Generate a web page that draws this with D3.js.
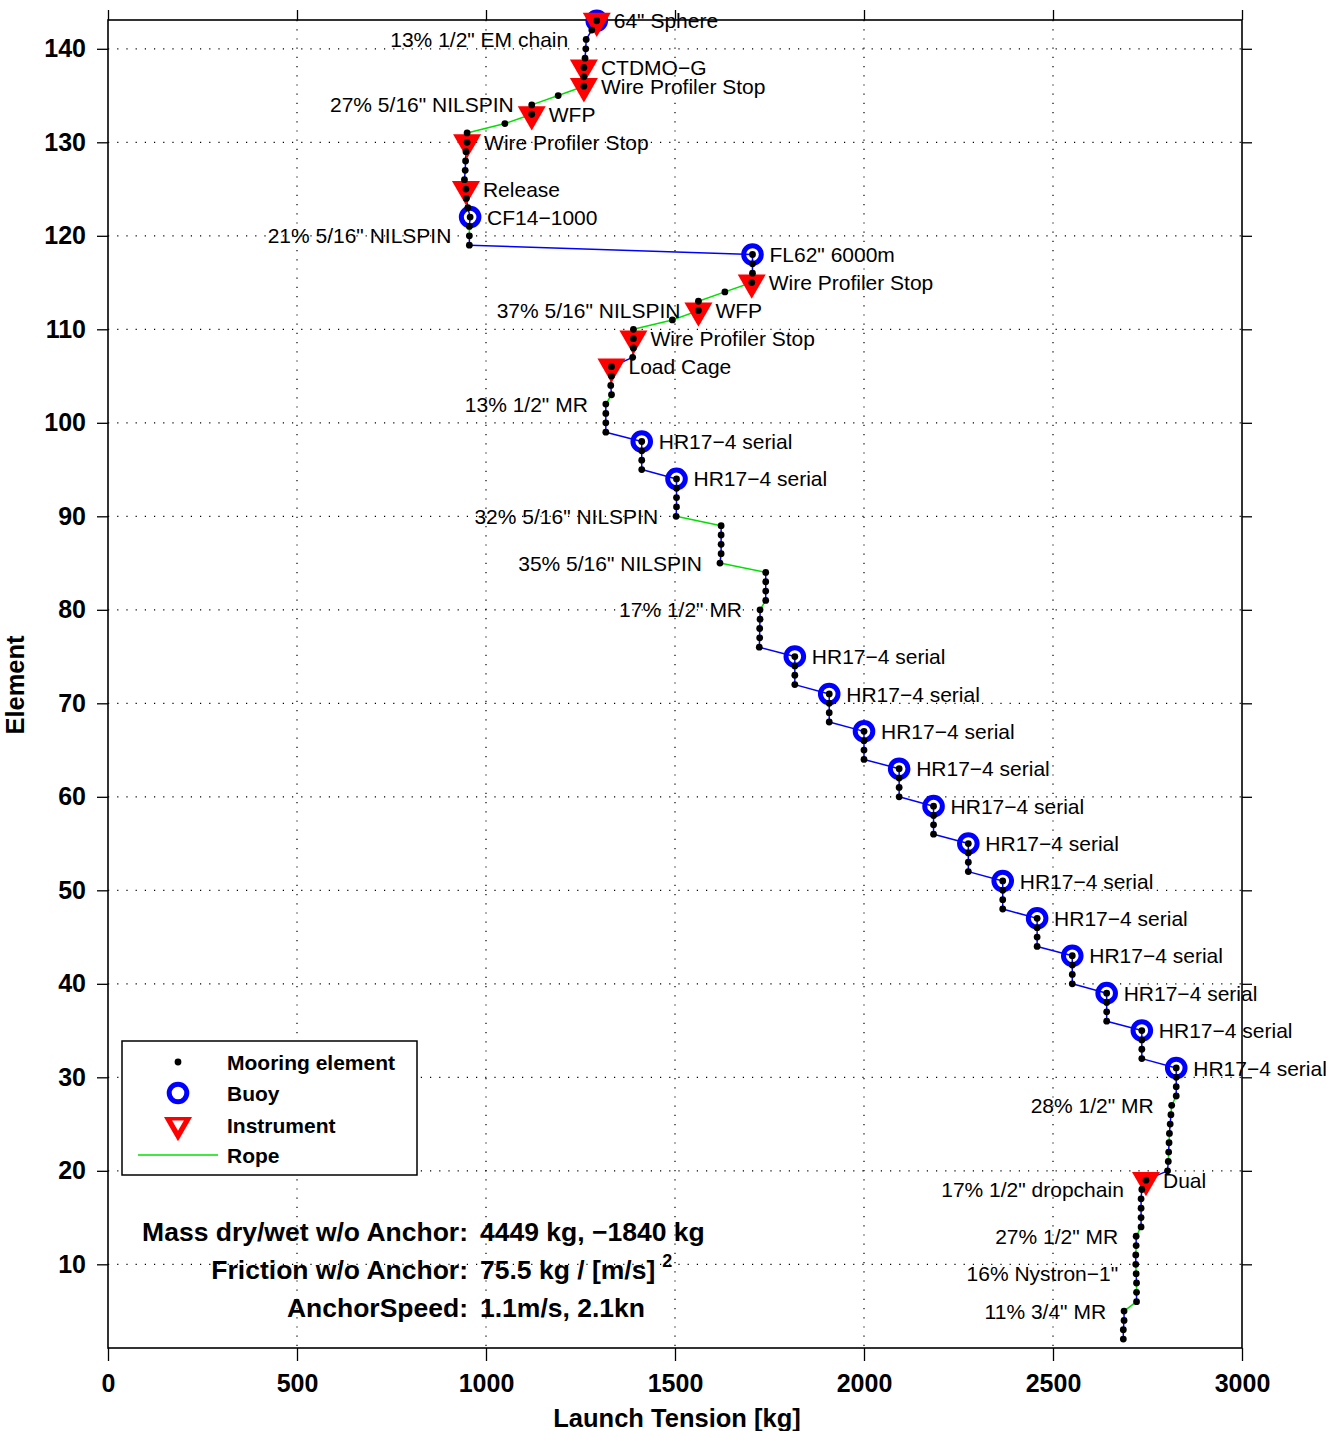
<!DOCTYPE html>
<html>
<head>
<meta charset="utf-8">
<script src="https://cdn.jsdelivr.net/npm/d3@7"></script>
<style>
  body { margin: 0; background: #fff; }
  text { font-family: "Liberation Sans", Arial, Helvetica, sans-serif; }
  .tick text { font-weight: bold; font-size: 25px; fill: #000; }
  .lbl { font-size: 21px; fill: #000; }
</style>
</head>
<body>
<div id="chart"></div>
<script>
// DATA
// launch tension [kg] per mooring element, starting at element 2 (bottom) up to 143 (top)
var firstElement = 2;
var tension = [
  2686, 2686, 2688, 2688,                                 // 2-5
  2721, 2721, 2721, 2720, 2719, 2719, 2720, 2720,         // 6-13
  2733, 2733, 2733, 2733, 2735,                           // 14-18
  2746,                                                   // 19 Dual
  2803, 2805, 2806, 2807, 2808, 2810, 2812, 2814,         // 20-27
  2826, 2826, 2826, 2826,                                 // 28-31
  2735, 2735, 2735, 2735,                                 // 32-35
  2642, 2642, 2642, 2642,                                 // 36-39
  2551, 2551, 2551, 2551,                                 // 40-43
  2458, 2458, 2458, 2458,                                 // 44-47
  2367, 2367, 2367, 2367,                                 // 48-51
  2276, 2276, 2276, 2276,                                 // 52-55
  2184, 2184, 2184, 2184,                                 // 56-59
  2093, 2093, 2093, 2093,                                 // 60-63
  2000, 2000, 2000, 2000,                                 // 64-67
  1908, 1908, 1908, 1908,                                 // 68-71
  1817, 1817, 1817, 1817,                                 // 72-75
  1723, 1724, 1724, 1725, 1725,                           // 76-80
  1740, 1740, 1740, 1740,                                 // 81-84
  1619, 1622, 1622, 1622, 1622,                           // 85-89
  1503, 1504, 1504, 1504, 1504,                           // 90-94
  1412, 1412, 1412, 1412,                                 // 95-98
  1317, 1317, 1317, 1317,                                 // 99-102
  1332, 1330, 1332, 1332,                                 // 103-106
  1388, 1390, 1390, 1390,                                 // 107-110
  1493, 1562, 1562, 1632,                                 // 111-114
  1703, 1705, 1705, 1705,                                 // 115-118
  956, 956, 956, 958, 952, 948, 947, 943, 945, 946, 947, 950, 950, // 119-131
  1050, 1121, 1121, 1191,                                 // 132-135
  1259, 1259, 1259, 1262, 1264, 1265, 1280, 1293          // 136-143
];

// links (lower element of the pair) drawn as rope
var ropeLinks = [5, 7, 9, 11, 13, 21, 23, 26, 27, 80, 84, 89, 102, 110, 111, 112, 113, 114, 120, 131, 132, 133, 134, 135, 142];

var buoyElements = [143, 122, 118, 98, 94, 75, 71, 67, 63, 59, 55, 51, 47, 43, 39, 35, 31];
var instrumentElements = [143, 138, 136, 133, 130, 125, 115, 112, 109, 106, 19];

// labels right of the marker
var rightLabelElements = [143, 138, 136, 133, 130, 125, 122, 118, 115, 112, 109, 106,
  98, 94, 75, 71, 67, 63, 59, 55, 51, 47, 43, 39, 35, 31, 19];
var rightLabelTexts = ["64\" Sphere", "CTDMO\u2212G", "Wire Profiler Stop", "WFP", "Wire Profiler Stop",
  "Release", "CF14\u22121000", "FL62\" 6000m", "Wire Profiler Stop", "WFP", "Wire Profiler Stop", "Load Cage",
  "HR17\u22124 serial", "HR17\u22124 serial", "HR17\u22124 serial", "HR17\u22124 serial", "HR17\u22124 serial",
  "HR17\u22124 serial", "HR17\u22124 serial", "HR17\u22124 serial", "HR17\u22124 serial", "HR17\u22124 serial",
  "HR17\u22124 serial", "HR17\u22124 serial", "HR17\u22124 serial", "HR17\u22124 serial", "Dual"];

// labels left of the line (rope / chain sections)
var leftLabelElements = [141, 134, 120, 112, 102, 90, 85, 80, 27, 18, 13, 9, 5];
var leftLabelTexts = ["13% 1/2\" EM chain", "27% 5/16\" NILSPIN", "21% 5/16\" NILSPIN", "37% 5/16\" NILSPIN",
  "13% 1/2\" MR", "32% 5/16\" NILSPIN", "35% 5/16\" NILSPIN", "17% 1/2\" MR", "28% 1/2\" MR",
  "17% 1/2\" dropchain", "27% 1/2\" MR", "16% Nystron\u22121\"", "11% 3/4\" MR"];

var xTicks = [0, 500, 1000, 1500, 2000, 2500, 3000];
var yTicks = [10, 20, 30, 40, 50, 60, 70, 80, 90, 100, 110, 120, 130, 140];

var legendNames = ["Mooring element", "Buoy", "Instrument", "Rope"];
var infoNames = ["Mass dry/wet w/o Anchor:", "Friction w/o Anchor:", "AnchorSpeed:"];
var infoValues = ["4449 kg, \u22121840 kg", "75.5 kg / [m/s]", "1.1m/s, 2.1kn"];

// SET UP
var W = 1330, H = 1431;
var box = {left: 108, right: 1242, top: 20, bottom: 1348};

var svg = d3.select("#chart").append("svg")
    .attr("width", W)
    .attr("height", H);

var x = d3.scaleLinear().domain([0, 3000]).range([box.left, box.right]);
var y = d3.scaleLinear().domain([1.05, 143.08]).range([box.bottom, box.top]);

var data = tension.map(function(t, i) { return {el: firstElement + i, t: t}; });
function byEl(e) { return data[e - firstElement]; }

// grid (dotted)
var grid = svg.append("g");
grid.selectAll("line.gx").data(xTicks.slice(1, -1)).join("line")
    .attr("x1", d => x(d)).attr("x2", d => x(d))
    .attr("y1", box.top).attr("y2", box.bottom)
    .attr("stroke", "#000").attr("stroke-width", 1.2).attr("stroke-dasharray", "1.2,8");
grid.selectAll("line.gy").data(yTicks).join("line")
    .attr("x1", box.left).attr("x2", box.right)
    .attr("y1", d => y(d)).attr("y2", d => y(d))
    .attr("stroke", "#000").attr("stroke-width", 1.2).attr("stroke-dasharray", "1.2,8");

// axes
var xAxis = svg.append("g")
    .attr("transform", "translate(0," + box.bottom + ")")
    .call(d3.axisBottom(x).tickValues(xTicks).tickFormat(d3.format("d"))
      .tickSize(13).tickSizeOuter(0).tickPadding(13));
var xAxisTop = svg.append("g")
    .attr("transform", "translate(0," + box.top + ")")
    .call(d3.axisTop(x).tickValues(xTicks).tickSize(10).tickSizeOuter(0).tickFormat(""));
var yAxis = svg.append("g")
    .attr("transform", "translate(" + box.left + ",0)")
    .call(d3.axisLeft(y).tickValues(yTicks).tickSize(11).tickSizeOuter(0).tickPadding(11));
var yAxisRight = svg.append("g")
    .attr("transform", "translate(" + box.right + ",0)")
    .call(d3.axisRight(y).tickValues(yTicks).tickSize(10).tickSizeOuter(0).tickFormat(""));
svg.selectAll(".domain").remove();
svg.selectAll(".tick line").attr("stroke", "#000").attr("stroke-width", 1.3);

// frame
svg.append("rect")
    .attr("x", box.left).attr("y", box.top)
    .attr("width", box.right - box.left).attr("height", box.bottom - box.top)
    .attr("fill", "none").attr("stroke", "#000").attr("stroke-width", 1.6);

// axis titles
svg.append("text")
    .attr("x", 677).attr("y", 1427)
    .attr("text-anchor", "middle")
    .attr("font-weight", "bold").attr("font-size", 25.5)
    .text("Launch Tension [kg]");
svg.append("text")
    .attr("transform", "translate(24,685) rotate(-90)")
    .attr("text-anchor", "middle")
    .attr("font-weight", "bold").attr("font-size", 25.5)
    .text("Element");

// mooring line, one segment per link
var links = data.slice(0, -1).map(function(d, i) { return [d, data[i + 1]]; });
svg.append("g").selectAll("line").data(links).join("line")
    .attr("x1", d => x(d[0].t)).attr("y1", d => y(d[0].el))
    .attr("x2", d => x(d[1].t)).attr("y2", d => y(d[1].el))
    .attr("stroke", d => ropeLinks.indexOf(d[0].el) >= 0 ? "#00e000" : "#0000ff")
    .attr("stroke-width", 1.5);

// buoys
svg.append("g").selectAll("circle").data(buoyElements.map(byEl)).join("circle")
    .attr("cx", d => x(d.t)).attr("cy", d => y(d.el))
    .attr("r", 8.8)
    .attr("fill", "none").attr("stroke", "#0000ff").attr("stroke-width", 5);

// instruments (downward triangles)
var tri = d3.symbol().type(d3.symbolTriangle).size(340);
svg.append("g").selectAll("path").data(instrumentElements.map(byEl)).join("path")
    .attr("d", tri)
    .attr("transform", d => "translate(" + x(d.t) + "," + y(d.el) + ") rotate(180)")
    .attr("fill", "#ff0000");

// elements
svg.append("g").selectAll("circle").data(data).join("circle")
    .attr("cx", d => x(d.t)).attr("cy", d => y(d.el))
    .attr("r", 3.4)
    .attr("fill", "#000");

// labels
svg.append("g").selectAll("text").data(rightLabelElements).join("text")
    .attr("class", "lbl")
    .attr("x", d => x(byEl(d).t) + 17)
    .attr("y", d => y(d))
    .attr("dy", "0.36em")
    .text((d, i) => rightLabelTexts[i]);

svg.append("g").selectAll("text").data(leftLabelElements).join("text")
    .attr("class", "lbl")
    .attr("x", d => x(byEl(d).t) - 18)
    .attr("y", d => y(d))
    .attr("dy", "0.36em")
    .attr("text-anchor", "end")
    .text((d, i) => leftLabelTexts[i]);

// legend
var legend = svg.append("g");
legend.append("rect")
    .attr("x", 122).attr("y", 1041).attr("width", 295).attr("height", 134)
    .attr("fill", "#fff").attr("stroke", "#000").attr("stroke-width", 1.5);
var legY = [1062, 1093, 1125, 1155];
legend.append("circle").attr("cx", 178).attr("cy", legY[0]).attr("r", 3.4).attr("fill", "#000");
legend.append("circle").attr("cx", 178).attr("cy", legY[1]).attr("r", 8.8)
    .attr("fill", "none").attr("stroke", "#0000ff").attr("stroke-width", 5);
legend.append("path").attr("d", tri)
    .attr("transform", "translate(178," + legY[2] + ") rotate(180)")
    .attr("fill", "#ff0000");
legend.append("path").attr("d", d3.symbol().type(d3.symbolTriangle).size(60))
    .attr("transform", "translate(178," + (legY[2] - 1) + ") rotate(180)")
    .attr("fill", "#fff");
legend.append("line").attr("x1", 138).attr("x2", 218).attr("y1", legY[3]).attr("y2", legY[3])
    .attr("stroke", "#00e000").attr("stroke-width", 1.5);
legend.selectAll("text.leg").data(legendNames).join("text")
    .attr("x", 227).attr("y", (d, i) => legY[i]).attr("dy", "0.36em")
    .attr("font-weight", "bold").attr("font-size", 21)
    .text(d => d);

// mass / friction / anchor speed
var infoY = [1231, 1269, 1307];
svg.append("g").selectAll("text").data(infoNames).join("text")
    .attr("x", 468).attr("y", (d, i) => infoY[i]).attr("dy", "0.36em")
    .attr("text-anchor", "end")
    .attr("font-weight", "bold").attr("font-size", 26.5)
    .text(d => d);
var vals = svg.append("g").selectAll("text").data(infoValues).join("text")
    .attr("x", 480).attr("y", (d, i) => infoY[i]).attr("dy", "0.36em")
    .attr("font-weight", "bold").attr("font-size", 26.5)
    .text(d => d);
vals.filter((d, i) => i === 1).append("tspan")
    .attr("dx", 7).attr("dy", -12)
    .attr("font-size", 18)
    .text("2");
</script>
</body>
</html>
